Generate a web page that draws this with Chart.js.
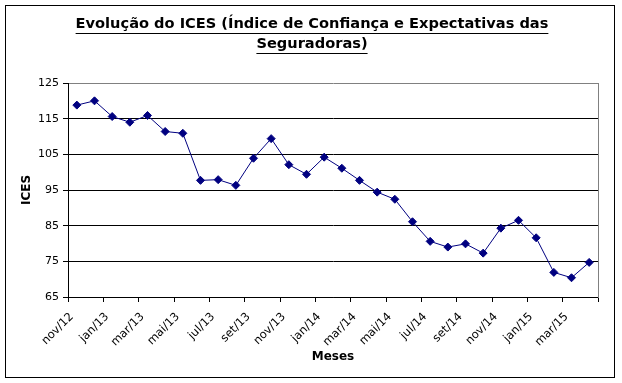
<!DOCTYPE html>
<html><head><meta charset="utf-8">
<script src="https://cdn.jsdelivr.net/npm/chart.js@4.4.0/dist/chart.umd.min.js"></script>
<style>html,body{margin:0;padding:0;background:#fff}#wrap{width:622px;height:383px;position:relative}</style>
</head><body><div id="wrap"><canvas id="c" width="622" height="383"></canvas></div>
<script>
const months = ['nov/12','dez/12','jan/13','fev/13','mar/13','abr/13','mai/13','jun/13','jul/13','ago/13','set/13','out/13','nov/13','dez/13','jan/14','fev/14','mar/14','abr/14','mai/14','jun/14','jul/14','ago/14','set/14','out/14','nov/14','dez/14','jan/15','fev/15','mar/15','abr/15'];
const icesValues = [118.8,120.0,115.6,114.0,115.9,111.4,110.9,97.7,97.9,96.3,103.9,109.4,102.1,99.4,104.2,101.1,97.7,94.4,92.4,86.1,80.6,79.0,79.9,77.3,84.3,86.5,81.6,71.9,70.4,74.7];
const yTicks = [65,75,85,95,105,115,125];
const titleLines = ['Evolução do ICES (Índice de Confiança e Expectativas das','Seguradoras)'];
const yTitle = 'ICES';
const xTitle = 'Meses';

const FAM = '"DejaVu Sans", sans-serif';
const TITLE_SIZE = 14.6;

const decor = {
  id: 'decor',
  afterDraw(chart) {
    const ctx = chart.ctx;
    ctx.save();
    ctx.strokeStyle = '#000';
    ctx.lineWidth = 1;
    ctx.strokeRect(5.5, 5.5, 609, 372);
    const tb = chart.titleBlock;
    const opts = tb.options;
    ctx.font = 'bold ' + TITLE_SIZE + 'px ' + FAM;
    const cx = (tb.left + tb.right) / 2;
    const pt = opts.padding.top;
    opts.text.forEach((t, i) => {
      const w = ctx.measureText(t).width;
      const mid = tb.top + pt + 20 * (i + 0.5);
      const y = Math.round(mid + 8.5) + 0.5;
      ctx.beginPath(); ctx.moveTo(cx - w / 2, y); ctx.lineTo(cx + w / 2, y); ctx.stroke();
    });
    ctx.restore();
  }
};

new Chart(document.getElementById('c'), {
  type: 'line',
  data: {
    labels: months,
    datasets: [{
      data: icesValues,
      borderColor: '#000080',
      borderWidth: 1,
      tension: 0,
      pointStyle: 'rectRot',
      pointRadius: 4,
      pointBackgroundColor: '#000080',
      pointBorderColor: '#000080',
      pointBorderWidth: 1
    }]
  },
  options: {
    responsive: false,
    animation: false,
    devicePixelRatio: 1,
    layout: { padding: { left: 6, right: 4, top: 0, bottom: 6 } },
    plugins: {
      legend: { display: false },
      tooltip: { enabled: false },
      title: {
        display: true,
        text: titleLines,
        color: '#000',
        font: { family: FAM, size: TITLE_SIZE, weight: 'bold', lineHeight: '20px' },
        padding: { top: 14.5, bottom: 28.5 }
      }
    },
    scales: {
      x: {
        type: 'category',
        offset: true,
        afterFit: s => { s.height = 80; },
        grid: {
          display: true, drawOnChartArea: false, drawTicks: true, tickLength: 5, offset: true,
          tickColor: ctx => (ctx.index === undefined || ctx.index % 2 === 0) ? '#000' : 'rgba(0,0,0,0)',
          tickWidth: 1
        },
        border: { display: true, color: '#000', width: 1 },
        ticks: {
          autoSkip: false, maxRotation: 45, minRotation: 45, color: '#000',
          font: { family: FAM, size: 11.5 }, padding: 8, labelOffset: -5,
          callback: (v, i) => (i % 2 === 0 ? months[i] : '')
        },
        title: { display: true, text: xTitle, color: '#000', font: { family: FAM, size: 12, weight: 'bold' }, padding: { top: 0, bottom: 12.5 } }
      },
      y: {
        min: 65, max: 125,
        afterFit: s => { s.width = 62; },
        afterBuildTicks: s => { s.ticks = yTicks.map(v => ({ value: v })); },
        grid: {
          color: ctx => (ctx.tick && ctx.tick.value === 125) ? '#808080' : '#000',
          tickColor: '#000', tickLength: 5, lineWidth: 1
        },
        border: { display: true, color: '#000', width: 1 },
        ticks: { color: '#000', font: { family: FAM, size: 11 }, padding: 4 },
        title: { display: true, text: yTitle, color: '#000', font: { family: FAM, size: 12, weight: 'bold' }, padding: { top: 13.5, bottom: 0 } }
      },
      y2: {
        position: 'right',
        min: 65, max: 125,
        afterFit: s => { s.width = 20; },
        grid: { display: false },
        ticks: { display: false },
        border: { display: true, color: '#808080', width: 1 }
      }
    }
  },
  plugins: [decor]
});
</script>
</body></html>
